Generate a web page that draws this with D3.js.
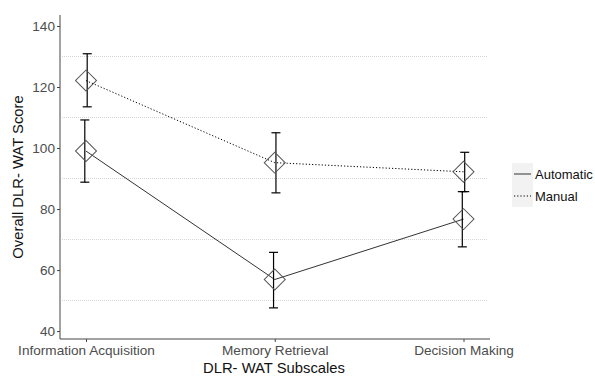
<!DOCTYPE html>
<html><head><meta charset="utf-8">
<script src="https://cdn.jsdelivr.net/npm/d3@7"></script>
<style>body{margin:0;background:#fff}svg{display:block;font-family:"Liberation Sans",Arial,sans-serif}</style>
</head><body><svg id="c" width="595" height="376"></svg>
<script>
const categories = ["Information Acquisition", "Memory Retrieval", "Decision Making"];
const seriesNames = ["Automatic", "Manual"];
const automaticMean = [99.0, 56.9, 76.7];
const automaticLow  = [88.8, 47.6, 67.6];
const automaticHigh = [109.2, 65.8, 85.7];
const manualMean = [122.1, 95.2, 92.2];
const manualLow  = [113.5, 85.3, 85.7];
const manualHigh = [130.9, 105.0, 98.6];
const yTicks = [40, 60, 80, 100, 120, 140];
const yMinorGrid = [50, 70, 90, 110, 130];

const series = [
  {name: "Automatic", mean: automaticMean, low: automaticLow, high: automaticHigh, dash: null, color: "#333", dodge: -1.2},
  {name: "Manual", mean: manualMean, low: manualLow, high: manualHigh, dash: "1.2,2", color: "#000", dodge: 1.2}
];

const svg = d3.select("#c");
const pL = 60, pR = 490, pT = 15, pB = 339;
const x = d3.scalePoint().domain(categories).range([86, 463.5]);
const y = d3.scaleLinear().domain([37.4, 143.6]).range([pB, pT]);

// minor dotted grid
svg.append("g").selectAll("line").data(yMinorGrid).join("line")
  .attr("x1", pL + 2).attr("x2", pR - 3)
  .attr("y1", d => y(d)).attr("y2", d => y(d))
  .attr("stroke", "#d4d4d4").attr("stroke-width", 1).attr("stroke-dasharray", "1,1");

// axes
const yAxis = svg.append("g").attr("transform", `translate(${pL},0)`)
  .call(d3.axisLeft(y).tickValues(yTicks).tickSize(3).tickPadding(2));
const xAxis = svg.append("g").attr("transform", `translate(0,${pB})`)
  .call(d3.axisBottom(x).tickSize(3).tickPadding(3));
[yAxis, xAxis].forEach(g => {
  g.select(".domain").remove();
  g.selectAll(".tick line").attr("stroke", "#444");
  g.selectAll(".tick text").attr("fill", "#4d4d4d").style("font-size", "13.6px").style("font-family", '"Liberation Sans",Arial,sans-serif');
});
svg.append("line").attr("x1", pL).attr("x2", pL).attr("y1", pT).attr("y2", pB).attr("stroke", "#444");
svg.append("line").attr("x1", pL).attr("x2", pR).attr("y1", pB).attr("y2", pB).attr("stroke", "#444");

// axis titles
svg.append("text").attr("x", 274).attr("y", 373).attr("text-anchor", "middle")
  .style("font-size", "14.8px").attr("fill", "#111").text("DLR- WAT Subscales");
svg.append("text").attr("transform", "translate(23,177) rotate(-90)").attr("text-anchor", "middle")
  .style("font-size", "14.8px").attr("fill", "#111").text("Overall DLR- WAT Score");

// lines
series.forEach(s => {
  const line = d3.line().x((d, i) => x(categories[i])).y(d => y(d));
  svg.append("path").datum(s.mean).attr("d", line).attr("fill", "none")
    .attr("stroke", s.color).attr("stroke-width", 1)
    .attr("stroke-dasharray", s.dash);
});

// error bars
series.forEach(s => {
  const g = svg.append("g").attr("stroke", "#000").attr("stroke-width", 1.2);
  categories.forEach((c, i) => {
    const cx = x(c) + s.dodge;
    g.append("line").attr("x1", cx).attr("x2", cx).attr("y1", y(s.low[i])).attr("y2", y(s.high[i]));
    g.append("line").attr("x1", cx - 4.5).attr("x2", cx + 4.5).attr("y1", y(s.low[i])).attr("y2", y(s.low[i]));
    g.append("line").attr("x1", cx - 4.5).attr("x2", cx + 4.5).attr("y1", y(s.high[i])).attr("y2", y(s.high[i]));
  });
});

// diamonds
const diamond = d3.symbol().type(d3.symbolSquare).size(220);
series.forEach(s => {
  svg.append("g").selectAll("path").data(s.mean).join("path")
    .attr("d", diamond)
    .attr("transform", (d, i) => `translate(${x(categories[i])},${y(d)}) rotate(45)`)
    .attr("fill", "none").attr("stroke", "#555").attr("stroke-width", 1);
});

// legend
const lg = svg.append("g").attr("transform", "translate(512,163)");
series.forEach((s, i) => {
  const row = lg.append("g").attr("transform", `translate(0,${i * 22})`);
  row.append("rect").attr("width", 21).attr("height", 22).attr("fill", "#f2f2f2");
  row.append("line").attr("x1", 2).attr("x2", 19).attr("y1", 11).attr("y2", 11)
    .attr("stroke", s.color).attr("stroke-width", 1).attr("stroke-dasharray", s.dash);
  row.append("text").attr("x", 23).attr("y", 16).style("font-size", "13px").attr("fill", "#111").text(s.name);
});
</script></body></html>
